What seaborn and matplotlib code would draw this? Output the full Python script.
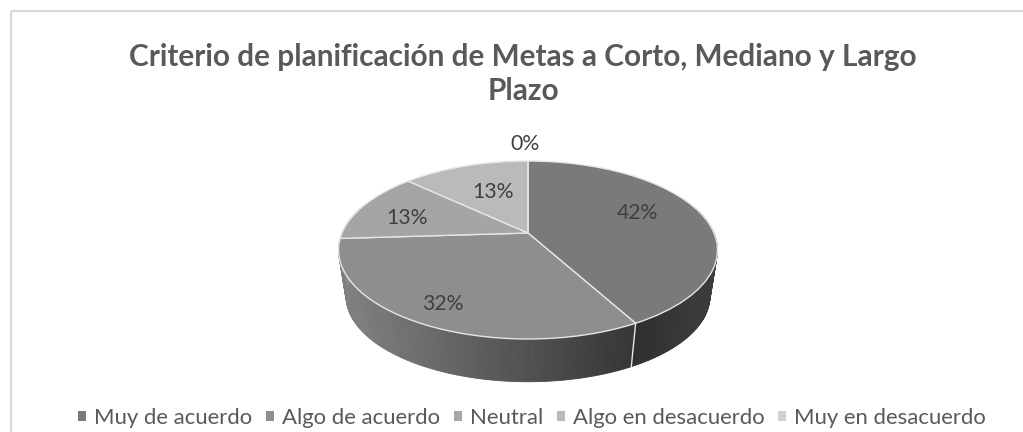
import numpy as np
import matplotlib
matplotlib.use("Agg")
import matplotlib.pyplot as plt
import seaborn as sns
from matplotlib.collections import PolyCollection
from matplotlib.patches import Rectangle
from matplotlib.transforms import Transform

categories = ["Muy de acuerdo", "Algo de acuerdo", "Neutral", "Algo en desacuerdo", "Muy en desacuerdo"]
values = [42, 32, 13, 13, 0]
title_text = "Criterio de planificación de Metas a Corto, Mediano y Largo\nPlazo"

sns.set_theme(style="white")
plt.rcParams["font.family"] = ["Lato", "DejaVu Sans"]

top_colors = sns.color_palette(["#7a7a7a", "#8e8e8e", "#a5a5a5", "#bababa", "#d0d0d0"])
TEXT = "#595959"

# Projection of the unit pie into figure pixels (tilted disc with perspective)
CX, CY, BX, BY, K = 528.0, 233.0, 186.0, 85.75, 0.191
DEPTH_SCALE, DEPTH_DY = 0.96, 47.0


def project(u, v, lower=False):
    den = 1 + K * v
    x, y = BX * u / den, -BY * v / den
    if lower:
        x, y = x * DEPTH_SCALE, y * DEPTH_SCALE + DEPTH_DY
    return CX + x, CY + y


class DiscTransform(Transform):
    input_dims = output_dims = 2
    is_separable = False
    has_inverse = False

    def transform_non_affine(self, values):
        values = np.asarray(values, dtype=float)
        return np.column_stack(project(values[:, 0], values[:, 1]))


fig = plt.figure(figsize=(10.23, 4.32), dpi=100, facecolor="white")
ax = fig.add_axes([0, 0, 1, 1])

wedges, _, autotexts = ax.pie(
    values, startangle=90, counterclock=False, radius=1, colors=top_colors,
    autopct="%.0f%%", pctdistance=0.6,
    wedgeprops=dict(edgecolor="#e6e6e6", linewidth=1.0, zorder=5),
)
ax.set_aspect("auto")
ax.set_xlim(0, 1023)
ax.set_ylim(432, 0)
ax.axis("off")

disc = DiscTransform() + ax.transData
for w in wedges:
    w.set_transform(disc)
    w.set_clip_on(False)

nudges = [(4, -8), (-25, 21), (-20, 2), (5, 2), (-3, -43)]
for t, (dx, dy) in zip(autotexts, nudges):
    px, py = project(*map(np.asarray, t.get_position()))
    t.set_position((float(px) + dx, float(py) + dy))
    t.set_color("#404040")
    t.set_fontsize(15.3)
    t.set_ha("center")
    t.set_va("center")
    t.set_zorder(7)

# Side wall of the disc, built from the same slice fractions
edges = np.cumsum([0] + values) / np.sum(values) * 2 * np.pi
polys, cols = [], []
for i in range(len(values)):
    if values[i] == 0:
        continue
    steps = max(2, int(values[i] * 3))
    th = np.linspace(edges[i], edges[i + 1], steps + 1)
    for a, b in zip(th[:-1], th[1:]):
        m = (a + b) / 2
        if np.cos(m) > 0.3:
            continue
        x0, y0 = project(np.sin(a), np.cos(a))
        x1, y1 = project(np.sin(b), np.cos(b))
        x2, y2 = project(np.sin(b), np.cos(b), True)
        x3, y3 = project(np.sin(a), np.cos(a), True)
        polys.append([(x0, y0), (x1, y1), (x2, y2), (x3, y3)])
        f = np.clip((float(x0) - 345) / (635 - 345), 0, 1)
        if i == 0:
            g = 0x2f + 0x0c * np.clip((float(x0) - 640) / 70, 0, 1)
        elif i == 1:
            g = 0x80 + (0x36 - 0x80) * f
        else:
            g = 0x8c
        cols.append((g / 255, g / 255, g / 255))
ax.add_collection(PolyCollection(polys, facecolors=cols, edgecolors=cols,
                                 linewidths=0.6, zorder=3))

# White seam on the side at the 42 % boundary
a = edges[1]
x0, y0 = project(np.sin(a), np.cos(a))
x1, y1 = project(np.sin(a), np.cos(a), True)
ax.plot([x0, x1], [y0, y1], color="#e6e6e6", lw=1.0, zorder=4)

ax.add_patch(Rectangle((10.5, 10.5), 1100, 500, fill=False, ec="#d9d9d9", lw=1.6, zorder=1))

ax.text(523, 74, title_text, ha="center", va="center", fontsize=21.4, fontweight="bold",
        color=TEXT, linespacing=1.28)

leg = ax.legend(wedges, categories, ncol=5, loc="center", bbox_to_anchor=(532, 418),
                bbox_transform=ax.transData, frameon=False, fontsize=15.9,
                labelcolor=TEXT, handlelength=0.36, handleheight=0.36,
                handletextpad=0.36, columnspacing=0.62, borderpad=0, borderaxespad=0)
for h in leg.legend_handles:
    h.set_edgecolor("none")

fig.savefig("out.png", dpi=100, facecolor="white")
